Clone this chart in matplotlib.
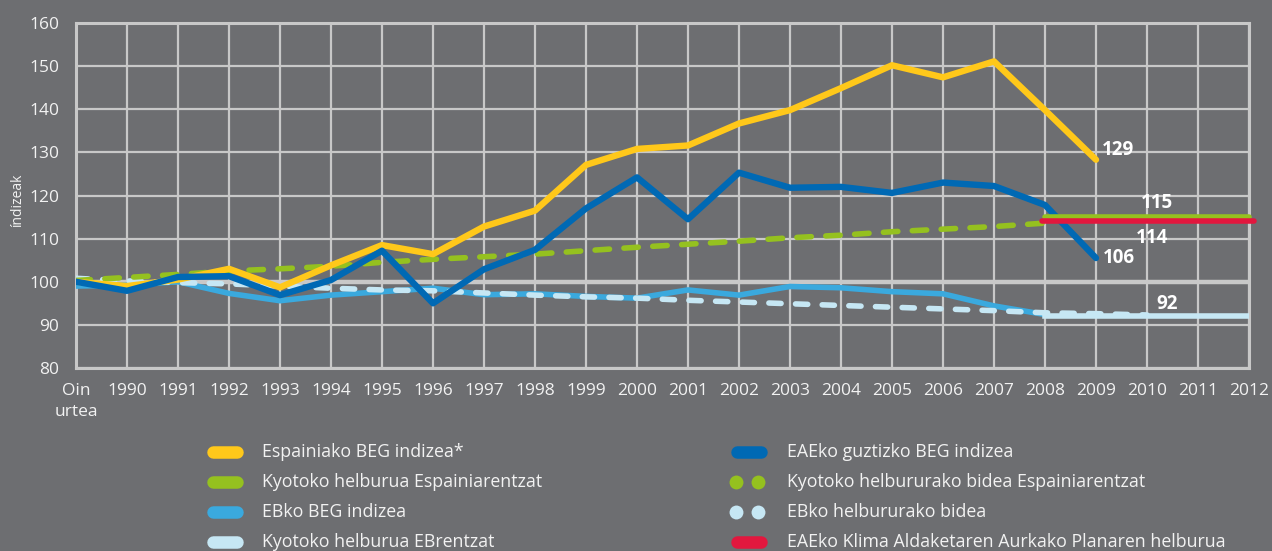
import matplotlib

matplotlib.use("Agg")
import matplotlib.pyplot as plt
from matplotlib.lines import Line2D

plt.rcParams["font.family"] = ["Open Sans", "DejaVu Sans"]

# x categories: base year, then 1990..2012
x_labels = ["Oin\nurtea", "1990", "1991", "1992", "1993", "1994", "1995", "1996",
            "1997", "1998", "1999", "2000", "2001", "2002", "2003", "2004", "2005",
            "2006", "2007", "2008", "2009", "2010", "2011", "2012"]

# series (index 0 = base year)
spain_index = [100, 99, 100.5, 103, 98.7, 103.8, 108.5, 106.4, 112.8, 116.5, 127.1,
               130.8, 131.6, 136.7, 139.8, 144.9, 150.2, 147.4, 151.1, 139.8, 128.3]
eae_index = [100, 97.9, 101.1, 101.3, 96.9, 100.4, 107.2, 95.0, 102.9, 107.4, 117.0,
             124.2, 114.5, 125.3, 121.8, 122.0, 120.6, 123.0, 122.2, 117.8, 105.5]
eu_index = [99, 99.2, 100, 97.3, 95.6, 96.9, 97.7, 98.5, 97.0, 97.2, 96.6,
            96.2, 98.1, 96.9, 98.9, 98.6, 97.7, 97.2, 94.4, 92.4]
eu_path = [100.8, 100.2, 99.8, 99.5, 99.0, 98.5, 98.1, 97.9, 97.4, 96.9, 96.5,
           96.2, 95.7, 95.3, 94.9, 94.5, 94.1, 93.7, 93.3, 92.8, 92.6, 92.3]
kyoto_path = [100.3, 101.0, 101.7, 102.5, 103.0, 103.6, 104.5, 105.2, 105.8, 106.4,
              107.2, 108.0, 108.7, 109.4, 110.2, 110.8, 111.6, 112.2, 112.8, 113.6]
target_years = ["2008", "2012"]
kyoto_spain_target = 115
kyoto_eu_target = 92
eae_plan_target = 114
end_labels = {"spain": "129", "eae": "106", "kyoto_es": "115",
              "plan": "114", "kyoto_eu": "92"}

legend_labels = [
    "Espainiako BEG indizea*", "EAEko guztizko BEG indizea",
    "Kyotoko helburua Espainiarentzat", "Kyotoko helbururako bidea Espainiarentzat",
    "EBko BEG indizea", "EBko helbururako bidea",
    "Kyotoko helburua EBrentzat", "EAEko Klima Aldaketaren Aurkako Planaren helburua",
]

BG = "#6d6e71"
GRID = "#c8c8c8"
TXT = "#f2f2f2"
YELLOW = "#ffc81a"
DBLUE = "#0069b4"
GREEN = "#95c11f"
LBLUE = "#3aa9de"
VLBLUE = "#c6e7f4"
RED = "#e2173e"

W, H = 1272, 551
fig = plt.figure(figsize=(W / 100, H / 100), dpi=100, facecolor=BG)
ax = fig.add_axes([76 / W, 1 - 368 / H, (1249 - 76) / W, (368 - 23) / H])
ax.set_facecolor(BG)

xs = list(range(len(x_labels)))
tx = [x_labels.index(t) for t in target_years]

ax.set_xlim(0, len(x_labels) - 1)
ax.set_ylim(80, 160)
ax.set_yticks(range(80, 161, 10))
ax.set_xticks(xs)
ax.set_xticklabels(x_labels, linespacing=1.4)
ax.tick_params(length=0, colors=TXT, labelsize=12.5)
ax.tick_params(axis="x", pad=11)
ax.tick_params(axis="y", pad=12)
ax.grid(True, color=GRID, lw=1.6, zorder=0)
ax.set_axisbelow(True)
for s in ax.spines.values():
    s.set_color(GRID)
    s.set_linewidth(2.2)
ax.axhline(100, color=GRID, lw=3.2, zorder=1)
fig.text(18 / W, 1 - 200 / H, "índizeak", color=TXT, fontsize=10,
         rotation=90, ha="center", va="center")

lw = 4.0
ax.plot(xs[:len(eu_index)], eu_index, color=LBLUE, lw=lw, zorder=3)
ax.plot(tx, [kyoto_eu_target] * 2, color=VLBLUE, lw=lw, zorder=3)
ax.plot(xs[:len(eu_path)], eu_path, color=VLBLUE, lw=lw, dashes=(2.2, 2.6),
        dash_capstyle="round", zorder=4)
ax.plot(xs[:len(kyoto_path)], kyoto_path, color=GREEN, lw=lw, dashes=(2.6, 2.6),
        dash_capstyle="round", zorder=4)
ax.plot(xs[:len(spain_index)], spain_index, color=YELLOW, lw=lw + 0.6,
        solid_capstyle="round", zorder=5)
ax.plot(xs[:len(eae_index)], eae_index, color=DBLUE, lw=lw + 0.6,
        solid_capstyle="round", zorder=6)
ax.plot(tx, [kyoto_spain_target] * 2, color=GREEN, lw=lw, solid_capstyle="round",
        zorder=7, clip_on=False)
ax.plot([tx[0] - 0.05, tx[1] + 0.1], [eae_plan_target] * 2, color=RED, lw=lw,
        solid_capstyle="round", zorder=7, clip_on=False)

lab = dict(color="white", fontsize=13.5, fontweight="bold", zorder=8)
ax.annotate(end_labels["spain"], (len(spain_index) - 1, spain_index[-1]),
            xytext=(4, 7), textcoords="offset points", va="center", ha="left", **lab)
ax.annotate(end_labels["eae"], (len(eae_index) - 1, eae_index[-1]),
            xytext=(5, 0), textcoords="offset points", va="center", ha="left", **lab)
ax.text(21.2, kyoto_spain_target + 3.3, end_labels["kyoto_es"], ha="center", va="center", **lab)
ax.text(21.1, eae_plan_target - 3.8, end_labels["plan"], ha="center", va="center", **lab)
ax.text(21.4, kyoto_eu_target + 2.8, end_labels["kyoto_eu"], ha="center", va="center", **lab)

# legend (manual, two columns)
leg_colors = [YELLOW, DBLUE, GREEN, GREEN, LBLUE, VLBLUE, VLBLUE, RED]
leg_dotted = [False, False, False, True, False, True, False, False]
row_y = [452, 482, 512, 542]
col_sw = [(213, 237), (737, 761)]
col_tx = [262, 787]
for i, label in enumerate(legend_labels):
    r, c = divmod(i, 2)
    y = 1 - row_y[r] / H
    x0, x1 = col_sw[c]
    if leg_dotted[i]:
        fig.add_artist(Line2D([736 / W, 758 / W], [y, y], ls="none", marker="o",
                              ms=10, mfc=leg_colors[i], mec="none"))
    else:
        fig.add_artist(Line2D([x0 / W, x1 / W], [y, y], color=leg_colors[i], lw=9,
                              solid_capstyle="round"))
    fig.text(col_tx[c] / W, y, label, color=TXT, fontsize=12.8, va="center", ha="left")

fig.savefig("out.png", dpi=100, facecolor=BG)
